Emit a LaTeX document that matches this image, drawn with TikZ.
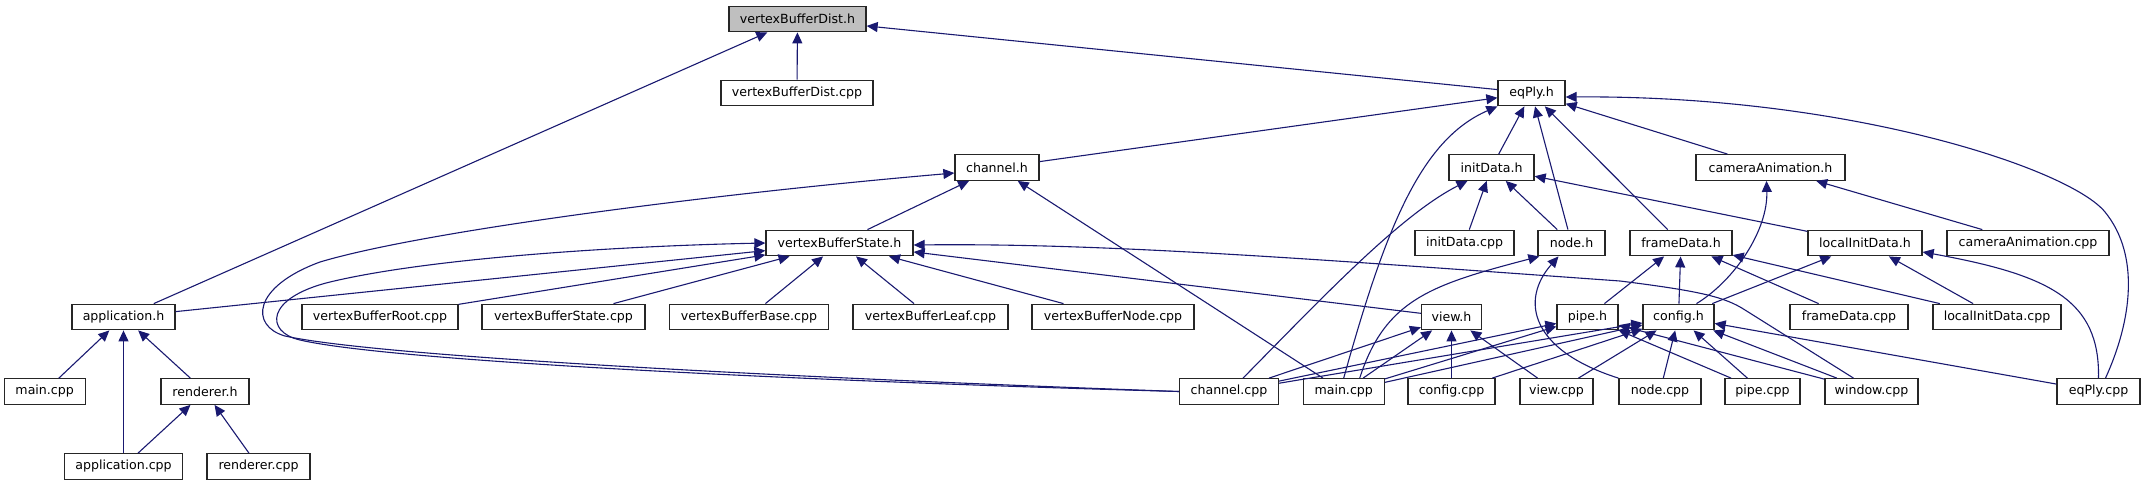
\documentclass[tikz,border=0pt]{standalone}
\usepackage{fontspec}
\setmainfont{DejaVu Sans}
\usetikzlibrary{arrows.meta,calc}
\definecolor{edgeblue}{HTML}{191970}
\begin{document}
\begin{tikzpicture}[x=1pt,y=-1pt,
  font=\fontsize{12.6}{14}\selectfont,
  box/.style={draw=black!85, line width=1.3pt, fill=white, inner sep=0pt, minimum height=25.5pt, text=black},
  cur/.style={box, fill=black!25},
  edge/.style={draw=edgeblue, line width=1.1pt, -{Triangle[length=11pt,width=10pt]}}]
\useasboundingbox (0,0) rectangle (2145,485);
% row 0
\node[cur, minimum width=137pt] (vbdh) at (797.5,19) {vertexBufferDist.h};
% row 1
\node[box, minimum width=152pt] (vbdcpp) at (797,93) {vertexBufferDist.cpp};
\node[box, minimum width=67pt] (eqplyh) at (1531.5,93) {eqPly.h};
% row 2
\node[box, minimum width=84pt] (channelh) at (997,167.5) {channel.h};
\node[box, minimum width=85pt] (initdatah) at (1491.5,167.5) {initData.h};
\node[box, minimum width=149pt] (camanimh) at (1770.5,167.5) {cameraAnimation.h};
% row 3
\node[box, minimum width=147pt] (vbstateh) at (839.5,243) {vertexBufferState.h};
\node[box, minimum width=99pt] (initdatacpp) at (1464.5,243) {initData.cpp};
\node[box, minimum width=67pt] (nodeh) at (1571.5,243) {node.h};
\node[box, minimum width=102pt] (framedatah) at (1681,243) {frameData.h};
\node[box, minimum width=114pt] (localinith) at (1865,243) {localInitData.h};
\node[box, minimum width=162pt] (camanimcpp) at (2028,243) {cameraAnimation.cpp};
% row 4
\node[box, minimum width=103pt] (apph) at (123.5,317) {application.h};
\node[box, minimum width=156pt] (vbrootcpp) at (380,317) {vertexBufferRoot.cpp};
\node[box, minimum width=163pt] (vbstatecpp) at (563.5,317) {vertexBufferState.cpp};
\node[box, minimum width=159pt] (vbbasecpp) at (749,317) {vertexBufferBase.cpp};
\node[box, minimum width=155pt] (vbleafcpp) at (930.5,317) {vertexBufferLeaf.cpp};
\node[box, minimum width=162pt] (vbnodecpp) at (1113,317) {vertexBufferNode.cpp};
\node[box, minimum width=60pt] (viewh) at (1451.5,317) {view.h};
\node[box, minimum width=61pt] (pipeh) at (1587.5,317) {pipe.h};
\node[box, minimum width=71pt] (configh) at (1678.5,317) {config.h};
\node[box, minimum width=118pt] (framedatacpp) at (1849,317) {frameData.cpp};
\node[box, minimum width=128pt] (localinitcpp) at (1997,317) {localInitData.cpp};
% row 5
\node[box, minimum width=81pt] (maincppL) at (44.7,391.5) {main.cpp};
\node[box, minimum width=88pt] (rendererh) at (205,391.5) {renderer.h};
\node[box, minimum width=99pt] (channelcpp) at (1229,391.5) {channel.cpp};
\node[box, minimum width=81pt] (maincppM) at (1343.7,391.5) {main.cpp};
\node[box, minimum width=87pt] (configcpp) at (1451.5,391.5) {config.cpp};
\node[box, minimum width=73pt] (viewcpp) at (1556.5,391.5) {view.cpp};
\node[box, minimum width=82pt] (nodecpp) at (1660,391.5) {node.cpp};
\node[box, minimum width=75pt] (pipecpp) at (1762.5,391.5) {pipe.cpp};
\node[box, minimum width=93pt] (windowcpp) at (1871.5,391.5) {window.cpp};
\node[box, minimum width=83pt] (eqplycpp) at (2098.5,391.5) {eqPly.cpp};
% row 6
\node[box, minimum width=118pt] (appcpp) at (123.5,466.5) {application.cpp};
\node[box, minimum width=103pt] (renderercpp) at (258.5,466.5) {renderer.cpp};

% edges into vertexBufferDist.h
\draw[edge] (vbdcpp) -- (vbdh);
\draw[edge] (apph) -- (vbdh);
\draw[edge] (eqplyh) -- (vbdh);
% edges into eqPly.h
\draw[edge] (channelh) -- (eqplyh);
\draw[edge] (initdatah) -- (eqplyh);
\draw[edge] (nodeh) -- (eqplyh);
\draw[edge] (framedatah) -- (eqplyh);
\draw[edge] (camanimh) -- (eqplyh);
\draw[edge] (maincppM.north) .. controls (1385,230) and (1420,140) .. (eqplyh.south west);
\draw[edge] ($(eqplycpp.north)+(7,0)$) .. controls (2132,320) and (2140,255) .. (2105,212)
  .. controls (2070,169) and (1850,95) .. ($(eqplyh.east)+(0,4)$);
% edges into channel.h
\draw[edge] (vbstateh) -- (channelh);
\draw[edge] (maincppM) -- (channelh);
\draw[edge] (channelcpp.west) .. controls (800,378) and (380,357) .. (285,336)
  .. controls (250,326) and (252,287) .. (320,262)
  .. controls (420,232) and (700,195) .. ($(channelh.west)+(0,5.5)$);
% edges into vertexBufferState.h
\draw[edge] (channelcpp.west) .. controls (800,381) and (390,361) .. (300,340)
  .. controls (265,332) and (265,298) .. (330,282)
  .. controls (430,258) and (620,246) .. (vbstateh.west);
\draw[edge] (apph) -- (vbstateh);
\draw[edge] (vbrootcpp) -- (vbstateh);
\draw[edge] (vbstatecpp) -- (vbstateh);
\draw[edge] (vbbasecpp) -- (vbstateh);
\draw[edge] (vbleafcpp) -- (vbstateh);
\draw[edge] (vbnodecpp) -- (vbstateh);
\draw[edge] (viewh) -- (vbstateh);
\draw[edge] ($(windowcpp.north)+(-18,0)$) -- (1745,310) .. controls (1725,297) and (1700,291) .. (1620,281)
  .. controls (1300,258) and (1100,243) .. ($(vbstateh.east)+(0,2)$);
% edges into initData.h
\draw[edge] ($(channelcpp.north)+(14,0)$) .. controls (1320,300) and (1400,215) .. ($(initdatah.south)+(-24,0)$);
\draw[edge] (initdatacpp) -- (initdatah);
\draw[edge] (nodeh) -- (initdatah);
\draw[edge] (localinith) -- (initdatah);
% edges into cameraAnimation.h
\draw[edge] (camanimcpp) -- (camanimh);
\draw[edge] ($(configh.north)+(18,0)$) .. controls (1735,280) and (1768,230) .. ($(camanimh.south)+(-4,0)$);
% edges into application.h and renderer.h
\draw[edge] (maincppL) -- (apph);
\draw[edge] (appcpp) -- (apph);
\draw[edge] (rendererh) -- (apph);
\draw[edge] (appcpp) -- (rendererh);
\draw[edge] (renderercpp) -- (rendererh);
% edges into node.h
\draw[edge] ($(maincppM.north)+(16,0)$) .. controls (1385,300) and (1430,285) .. ($(nodeh.south west)+(2,0)$);
\draw[edge] (nodecpp.north west) .. controls (1530,350) and (1520,300) .. ($(nodeh.south)+(-13,0)$);
% edges into frameData.h
\draw[edge] (pipeh) -- (framedatah);
\draw[edge] (configh) -- (framedatah);
\draw[edge] (framedatacpp) -- (framedatah);
\draw[edge] (localinitcpp) -- (framedatah);
% edges into localInitData.h
\draw[edge] (configh) -- (localinith);
\draw[edge] (localinitcpp) -- (localinith);
\draw[edge] (eqplycpp.north) .. controls (2100,300) and (2050,275) .. ($(localinith.east)+(0,9)$);
% edges into view.h
\draw[edge] (channelcpp) -- (viewh);
\draw[edge] (maincppM) -- (viewh);
\draw[edge] (configcpp) -- (viewh);
\draw[edge] (viewcpp) -- (viewh);
% edges into pipe.h
\draw[edge] (channelcpp) -- (pipeh);
\draw[edge] (maincppM) -- (pipeh);
\draw[edge] (pipecpp) -- (pipeh);
\draw[edge] (windowcpp) -- (pipeh);
% edges into config.h
\draw[edge] (channelcpp) -- (configh);
\draw[edge] (maincppM) -- (configh);
\draw[edge] (configcpp) -- (configh);
\draw[edge] (viewcpp) -- (configh);
\draw[edge] (nodecpp) -- (configh);
\draw[edge] (pipecpp) -- (configh);
\draw[edge] (windowcpp) -- (configh);
\draw[edge] (eqplycpp) -- (configh);
\end{tikzpicture}
\end{document}
